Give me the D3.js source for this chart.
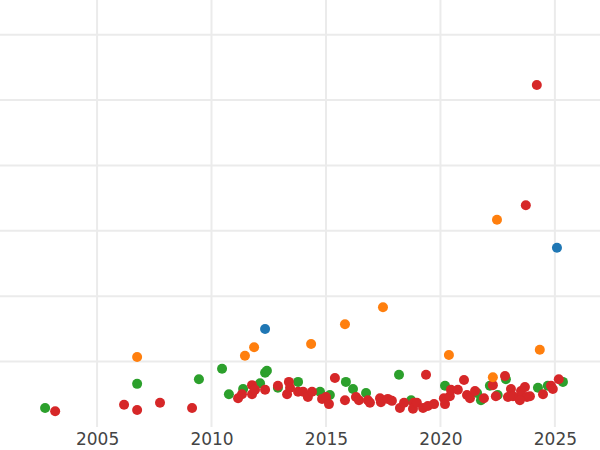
<!DOCTYPE html>
<html>
<head>
<meta charset="utf-8">
<script src="https://cdn.jsdelivr.net/npm/d3@7"></script>
<style>
	body { margin: 0; background: #fff; }
	svg { display: block; }
</style>
</head>
<body>
<svg id="chart" width="600" height="450"></svg>
<script>

// [year, value] pairs, one array per colour
const blue = [[2012.34, 1.50], [2025.09, 2.74]];
const orange = [[2006.75, 1.07], [2011.46, 1.09], [2011.86, 1.22], [2014.35, 1.27],
	[2015.83, 1.57], [2017.49, 1.83], [2020.37, 1.10], [2022.47, 3.17],
	[2022.29, 0.76], [2024.34, 1.18]];
const green = [[2002.73, 0.29], [2006.75, 0.66], [2009.45, 0.73], [2010.46, 0.89],
	[2010.76, 0.50], [2011.38, 0.58], [2012.12, 0.67], [2012.34, 0.83], [2012.42, 0.86],
	[2012.9, 0.60], [2013.78, 0.69], [2014.74, 0.54], [2015.17, 0.49], [2015.87, 0.69],
	[2016.18, 0.58], [2016.75, 0.52], [2018.19, 0.80], [2018.72, 0.41], [2020.2, 0.63],
	[2021.77, 0.41], [2022.16, 0.63], [2022.86, 0.73], [2024.26, 0.60], [2024.69, 0.63],
	[2025.35, 0.69], [2021.6, 0.52], [2022.5, 0.49]];
const red = [[2024.21, 5.23], [2023.73, 3.39],
	[2003.17, 0.24], [2006.18, 0.34], [2006.75, 0.26], [2007.75, 0.37], [2009.15, 0.29],
	[2011.16, 0.44], [2011.33, 0.50], [2011.77, 0.64], [2011.77, 0.50], [2011.9, 0.57],
	[2012.34, 0.57], [2012.9, 0.63], [2013.3, 0.50], [2013.38, 0.69], [2013.43, 0.60],
	[2013.78, 0.54], [2014.0, 0.54], [2014.21, 0.46], [2014.39, 0.54], [2014.83, 0.43],
	[2015.0, 0.46], [2015.13, 0.35], [2015.39, 0.75], [2015.83, 0.41], [2016.31, 0.46],
	[2016.44, 0.41], [2016.83, 0.41], [2016.92, 0.37], [2017.36, 0.44], [2017.4, 0.38],
	[2017.7, 0.43], [2017.88, 0.40], [2018.23, 0.29], [2018.41, 0.37], [2018.84, 0.37],
	[2018.8, 0.28], [2018.97, 0.37], [2019.24, 0.29], [2019.37, 0.80], [2019.45, 0.32],
	[2019.72, 0.35], [2020.15, 0.44], [2020.2, 0.35], [2020.41, 0.47], [2020.46, 0.57],
	[2020.76, 0.57], [2021.03, 0.72], [2021.16, 0.49], [2021.29, 0.44], [2021.51, 0.55],
	[2021.9, 0.44], [2022.29, 0.64], [2022.42, 0.47], [2022.82, 0.78], [2022.95, 0.46],
	[2023.08, 0.58], [2023.17, 0.47], [2023.43, 0.44], [2023.52, 0.55], [2023.69, 0.61],
	[2023.78, 0.46], [2023.91, 0.47], [2024.48, 0.50], [2024.83, 0.63], [2024.91, 0.58],
	[2025.17, 0.73], [2023.47, 0.41]];

const xTicks = [2005, 2010, 2015, 2020, 2025];
const yGrid = [1, 2, 3, 4, 5, 6];

const series = [
	{ data: green, color: "#2ca02c" },
	{ data: red, color: "#d62728" },
	{ data: orange, color: "#ff7f0e" },
	{ data: blue, color: "#1f77b4" }
];

const svg = d3.select("#chart");
const x = d3.scaleLinear().domain([2000.76, 2026.97]).range([0, 600]);
const y = d3.scaleLinear().domain([0, 6.53]).range([427, 0]);

// Grid
svg.append("g").selectAll("line").data(yGrid).enter().append("line")
	.attr("x1", 0).attr("x2", 600)
	.attr("y1", d => y(d)).attr("y2", d => y(d))
	.attr("stroke", "#ebebeb").attr("stroke-width", 2);
svg.append("g").selectAll("line").data(xTicks).enter().append("line")
	.attr("x1", d => x(d)).attr("x2", d => x(d))
	.attr("y1", 0).attr("y2", 427)
	.attr("stroke", "#ebebeb").attr("stroke-width", 2);

// X axis labels only
const xAxis = svg.append("g")
	.attr("transform", "translate(0,427)")
	.call(d3.axisBottom(x).tickValues(xTicks).tickFormat(d3.format("d")).tickSize(0).tickPadding(6));
xAxis.select(".domain").remove();
xAxis.selectAll("text")
	.attr("font-family", "DejaVu Sans, sans-serif")
	.attr("font-size", 17)
	.attr("fill", "#444");

// Points
series.forEach(s => {
	svg.append("g").selectAll("circle").data(s.data).enter().append("circle")
		.attr("cx", d => x(d[0]))
		.attr("cy", d => y(d[1]))
		.attr("r", 5)
		.attr("fill", s.color);
});
</script>
</body>
</html>
